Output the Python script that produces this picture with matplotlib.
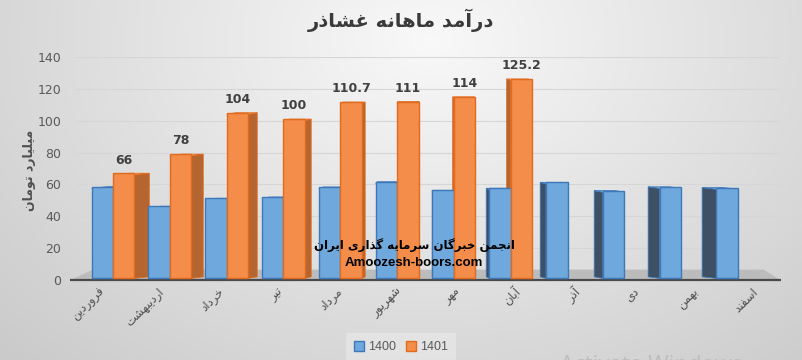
import matplotlib
matplotlib.use("Agg")
import matplotlib.pyplot as plt
import numpy as np
from matplotlib.patches import Polygon, Patch

# ---- data ----
months = ["فروردین", "اردیبهشت", "خرداد", "تیر", "مرداد", "شهریور",
          "مهر", "آبان", "آذر", "دی", "بهمن", "اسفند"]
rev_1400 = [57.6, 45.3, 50.3, 51.1, 57.4, 60.7, 55.3, 56.6, 60.3, 55.1, 57.5, 57.0]
rev_1401 = [66, 78, 104, 100, 110.7, 111, 114, 125.2]
labels_1401 = ["66", "78", "104", "100", "110.7", "111", "114", "125.2"]
series_names = ["1400", "1401"]
title = "درآمد ماهانه غشاذر"
ylabel = "میلیارد تومان"
watermark_fa = "انجمن خبرگان سرمایه گذاری ایران"
watermark_en = "Amoozesh-boors.com"

# ---- minimal persian shaping (matplotlib has no RTL/joining support) ----
FORMS = {  # isolated, final, initial, medial
    "ا": (0xFE8D, 0xFE8E), "آ": (0xFE81, 0xFE82), "د": (0xFEA9, 0xFEAA),
    "ذ": (0xFEAB, 0xFEAC), "ر": (0xFEAD, 0xFEAE), "ز": (0xFEAF, 0xFEB0),
    "ژ": (0xFB8A, 0xFB8B), "و": (0xFEED, 0xFEEE),
    "ب": (0xFE8F, 0xFE90, 0xFE91, 0xFE92), "پ": (0xFB56, 0xFB57, 0xFB58, 0xFB59),
    "ت": (0xFE95, 0xFE96, 0xFE97, 0xFE98), "ث": (0xFE99, 0xFE9A, 0xFE9B, 0xFE9C),
    "ج": (0xFE9D, 0xFE9E, 0xFE9F, 0xFEA0), "چ": (0xFB7A, 0xFB7B, 0xFB7C, 0xFB7D),
    "ح": (0xFEA1, 0xFEA2, 0xFEA3, 0xFEA4), "خ": (0xFEA5, 0xFEA6, 0xFEA7, 0xFEA8),
    "س": (0xFEB1, 0xFEB2, 0xFEB3, 0xFEB4), "ش": (0xFEB5, 0xFEB6, 0xFEB7, 0xFEB8),
    "ص": (0xFEB9, 0xFEBA, 0xFEBB, 0xFEBC), "ض": (0xFEBD, 0xFEBE, 0xFEBF, 0xFEC0),
    "ط": (0xFEC1, 0xFEC2, 0xFEC3, 0xFEC4), "ظ": (0xFEC5, 0xFEC6, 0xFEC7, 0xFEC8),
    "ع": (0xFEC9, 0xFECA, 0xFECB, 0xFECC), "غ": (0xFECD, 0xFECE, 0xFECF, 0xFED0),
    "ف": (0xFED1, 0xFED2, 0xFED3, 0xFED4), "ق": (0xFED5, 0xFED6, 0xFED7, 0xFED8),
    "ک": (0xFB8E, 0xFB8F, 0xFB90, 0xFB91), "گ": (0xFB92, 0xFB93, 0xFB94, 0xFB95),
    "ل": (0xFEDD, 0xFEDE, 0xFEDF, 0xFEE0), "م": (0xFEE1, 0xFEE2, 0xFEE3, 0xFEE4),
    "ن": (0xFEE5, 0xFEE6, 0xFEE7, 0xFEE8), "ه": (0xFEE9, 0xFEEA, 0xFEEB, 0xFEEC),
    "ی": (0xFBFC, 0xFBFD, 0xFBFE, 0xFBFF), "ئ": (0xFE89, 0xFE8A, 0xFE8B, 0xFE8C),
}


def fa(text):
    out = []
    for i, ch in enumerate(text):
        f = FORMS.get(ch)
        if f is None:
            out.append(ch)
            continue
        prev = text[i - 1] if i > 0 else ""
        nxt = text[i + 1] if i + 1 < len(text) else ""
        jp = prev in FORMS and len(FORMS[prev]) == 4
        jn = len(f) == 4 and nxt in FORMS
        if jp and jn:
            code = f[3]
        elif jp:
            code = f[1]
        elif jn:
            code = f[2]
        else:
            code = f[0]
        out.append(chr(code))
    return "".join(out)[::-1]


FA_FONT = ["DejaVu Sans"]
GREY = "#595959"

W, H = 803, 360
fig = plt.figure(figsize=(W / 100, H / 100), dpi=100)

# background: soft radial grey gradient
bg = fig.add_axes([0, 0, 1, 1], zorder=-10)
yy, xx = np.mgrid[0:H, 0:W]
d = np.sqrt(((xx - 430) / 560.0) ** 2 + ((yy - 40) / 420.0) ** 2)
shade = np.clip(0.975 - 0.17 * d, 0.78, 1.0)
bg.imshow(np.dstack([shade] * 3), aspect="auto", extent=[0, 1, 0, 1])
bg.axis("off")

ax = fig.add_axes([75 / W, 80 / H, 705 / W, 223 / H])
ax.set_facecolor("none")
ax.set_xlim(-0.669, 11.74)
ax.set_ylim(0, 140)
ax.set_yticks(range(0, 141, 20))
ax.tick_params(axis="y", length=0, pad=10, labelsize=9, labelcolor=GREY)
ax.set_xticks([])
for s in ax.spines.values():
    s.set_visible(False)
ax.grid(axis="y", color="#d6d6d6", lw=0.8, zorder=0)
ax.set_axisbelow(True)

n = len(months)
w = 0.378
cx = 5.58          # perspective centre (category units)
k = 0.05           # side-face depth factor
dy = 1.0

# floor
floor = Polygon([(-0.75, 0), (11.75, 0), (11.45, 6.5), (-0.35, 6.5)],
                closed=True, fc="#bcbcbc", ec="none", zorder=1, clip_on=False)
ax.add_patch(floor)
ax.plot([-0.75, 11.75], [0, 0], color="#4a4a4a", lw=1.6, zorder=1.5,
        clip_on=False, solid_capstyle="butt")

bars = []
for i in range(n):
    bars.append((i - w, rev_1400[i], "#6fa8dc", "#3e78b9", "#3e5064", "#8fbde6"))
    if i < len(rev_1401):
        bars.append((i, rev_1401[i], "#f48c4a", "#e06b1e", "#b5652f", "#f8b07c"))

# side faces first, fronts on top
for x0, v, fc, ec, sc, tc in bars:
    mid = x0 + w / 2
    if mid < cx:
        xe = x0 + w
        dx = k * (cx - xe)
    else:
        xe = x0
        dx = -k * (xe - cx)
    side = Polygon([(xe, 1), (xe + dx, 1 + dy), (xe + dx, v + dy), (xe, v)],
                   closed=True, fc=sc, ec=ec, lw=0.6, zorder=2)
    ax.add_patch(side)
    top = Polygon([(x0, v), (x0 + w, v), (x0 + w + dx, v + dy), (x0 + dx, v + dy)],
                  closed=True, fc=tc, ec=ec, lw=0.6, zorder=2)
    ax.add_patch(top)

ax.bar([i - w for i in range(n)], rev_1400, width=w, bottom=1,
       align="edge", color="#6fa8dc", edgecolor="#3e78b9", lw=1.0, zorder=3)
ax.bar([i for i in range(len(rev_1401))], rev_1401, width=w, bottom=1,
       align="edge", color="#f48c4a", edgecolor="#e06b1e", lw=1.0, zorder=3)

# data labels for 1401
for i, (v, lab) in enumerate(zip(rev_1401, labels_1401)):
    ax.annotate(lab, (i + w / 2, v), xytext=(0, 6), textcoords="offset points",
                ha="center", va="bottom", fontsize=9, fontweight="bold",
                color="#404040", zorder=5)

# category labels (rotated, spread slightly with perspective)
for i, m in enumerate(months):
    xi = i + 0.045 * (i - cx)
    ax.annotate(fa(m), (xi, 0), xytext=(3, -7), textcoords="offset points",
                rotation=45, rotation_mode="anchor", ha="right", va="center",
                fontsize=8.5, color="#505050", family=FA_FONT, annotation_clip=False)

# y label
fig.text(30 / W, 1 - 170 / H, fa(ylabel), rotation=90, ha="center", va="center",
         fontsize=9, fontweight="bold", color="#505050", family=FA_FONT)

# title
fig.text(0.5, 1 - 20 / H, fa(title), ha="center", va="center", fontsize=14,
         fontweight="bold", color="#3a3a3a", family=FA_FONT)

# watermark
fig.text(414 / W, 1 - 245 / H, fa(watermark_fa), ha="center", va="center",
         fontsize=8.5, fontweight="bold", color="black", family=FA_FONT, zorder=6)
fig.text(414 / W, 1 - 263 / H, watermark_en, ha="center", va="center",
         fontsize=9.5, fontweight="bold", color="black",
         family=["Liberation Sans", "DejaVu Sans"], zorder=6)

# legend
handles = [Patch(fc="#6fa8dc", ec="#3e78b9", lw=1.0),
           Patch(fc="#f48c4a", ec="#e06b1e", lw=1.0)]
leg = fig.legend(handles, series_names, loc="center", bbox_to_anchor=(401 / W, 1 - 347 / H),
                 ncol=2, frameon=True, handlelength=0.8, handleheight=0.8,
                 handletextpad=0.3, columnspacing=0.8, borderpad=0.35,
                 prop={"family": ["Liberation Sans", "DejaVu Sans"], "size": 9})
leg.get_frame().set_facecolor("#e6e6e6")
leg.get_frame().set_edgecolor("none")
leg.get_frame().set_boxstyle("square")
for t in leg.get_texts():
    t.set_color(GREY)

# screenshot artefact at the bottom edge
fig.text(560 / W, -11 / H, "Activate Windows", ha="left", va="baseline",
         fontsize=16, color="#bdbdbd", family=["Open Sans", "DejaVu Sans"])

fig.savefig("out.png", dpi=100)
